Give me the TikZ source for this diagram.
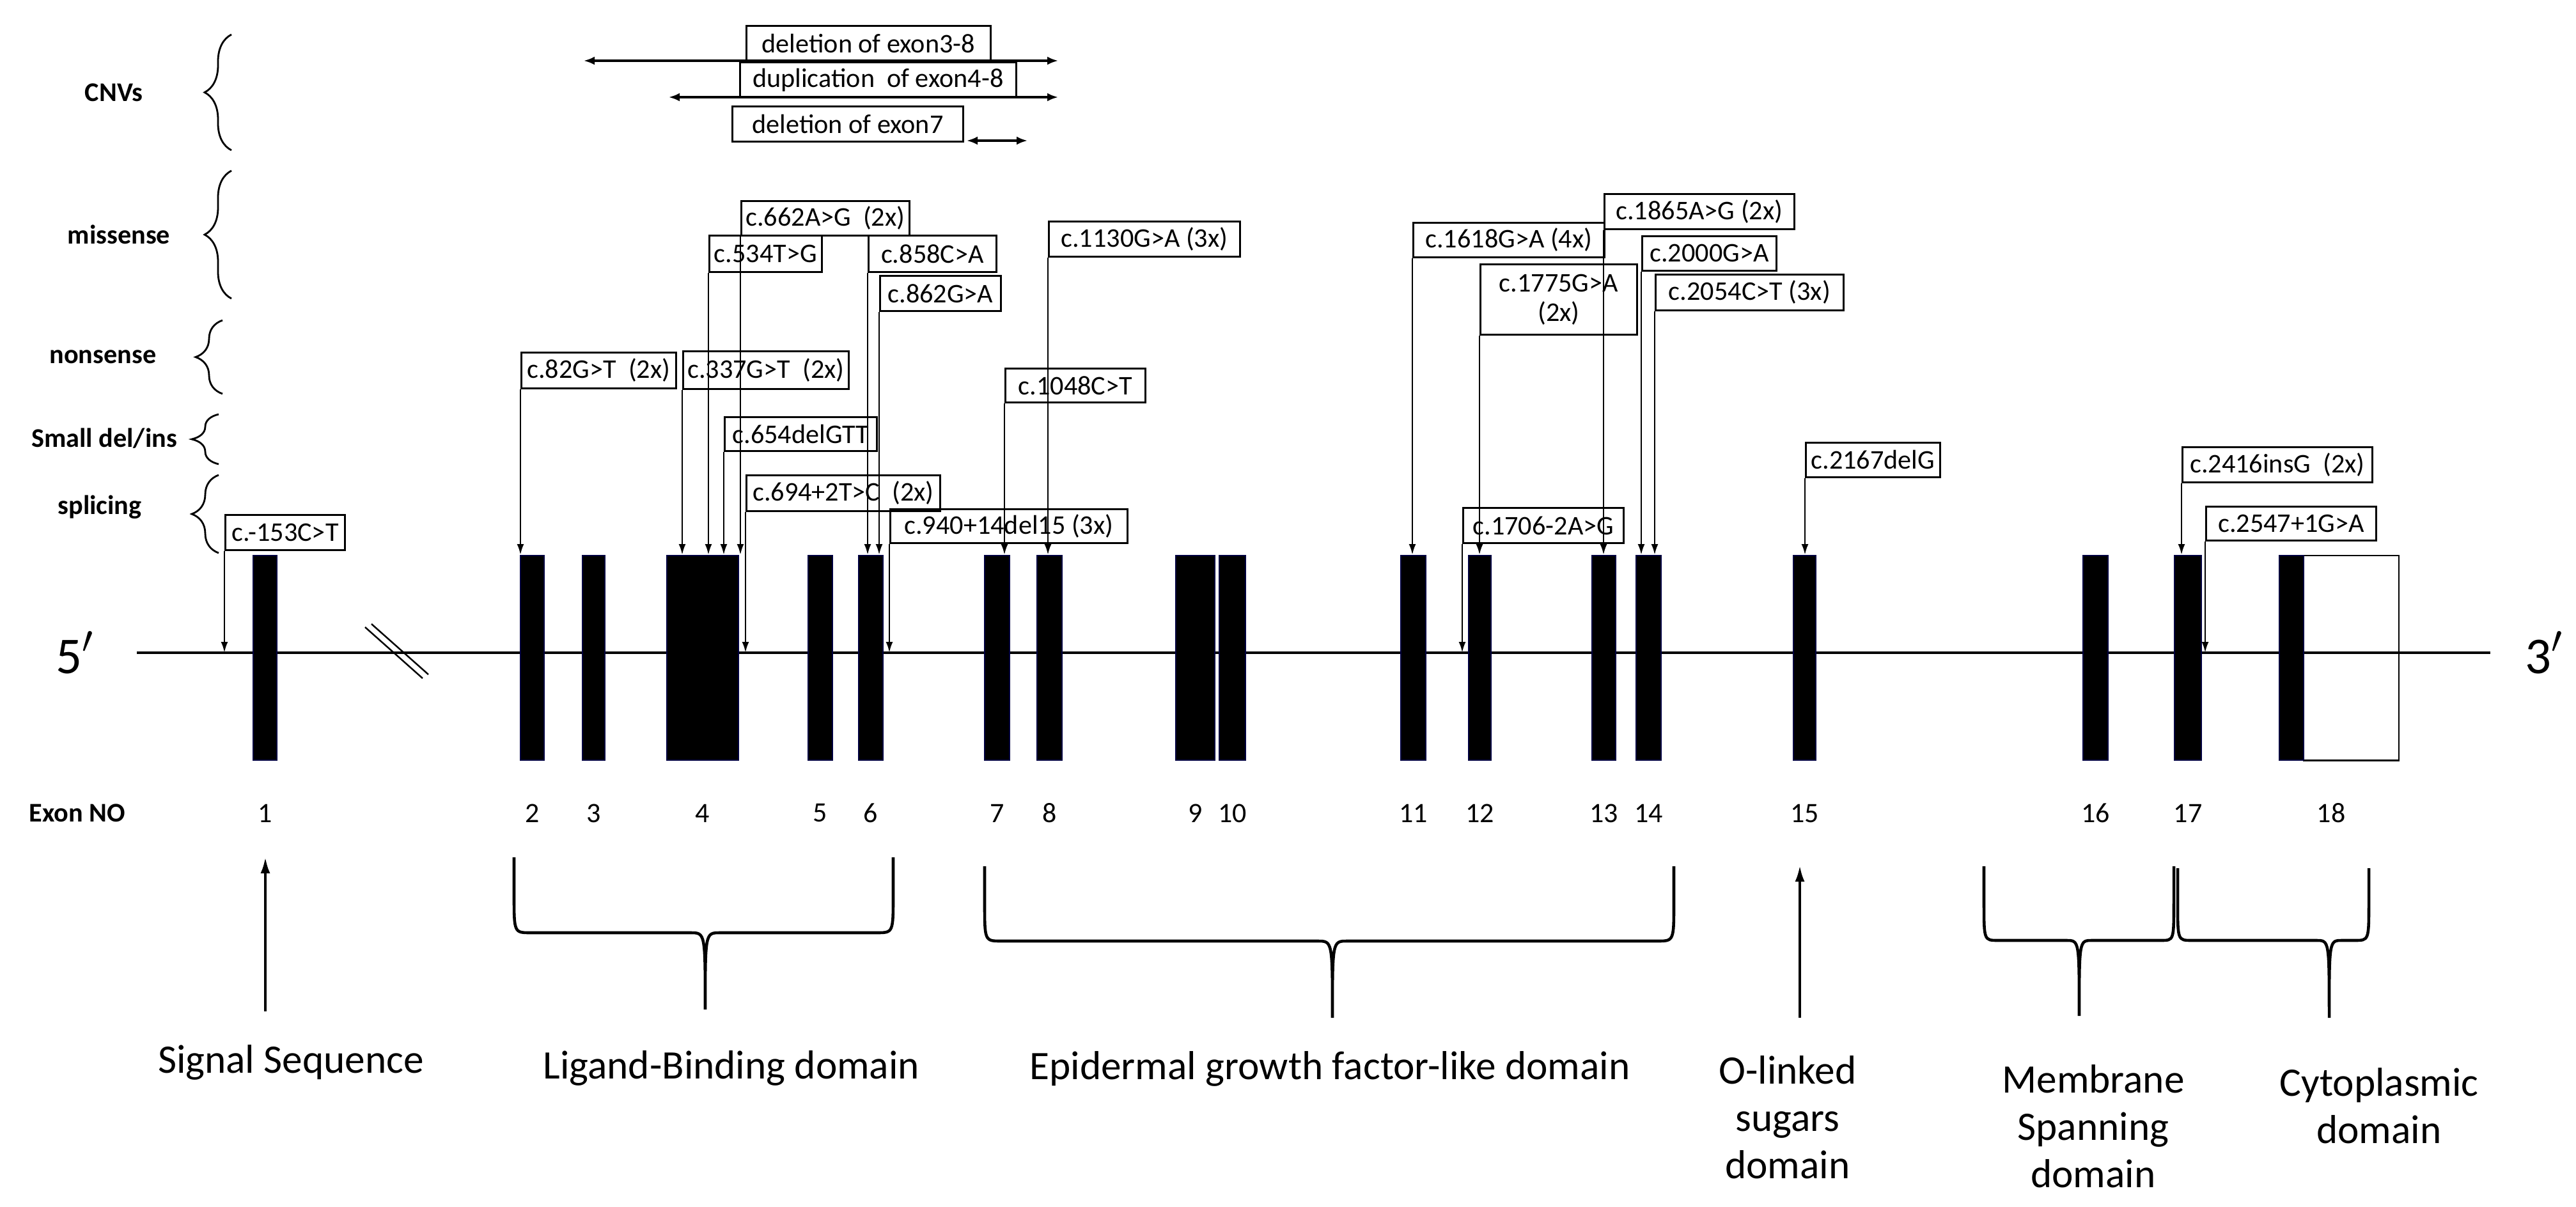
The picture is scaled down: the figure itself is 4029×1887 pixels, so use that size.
\documentclass[tikz,border=0pt]{standalone}
\usepackage{fontspec}
\setmainfont{Carlito}
\usetikzlibrary{arrows.meta,decorations.pathreplacing}
\newcommand\mutnode[6]{\node[mutbox,minimum width={(#4-#2)*0.01cm},minimum height={(#5-#3)*0.01cm}] (#1) at (#2,#3) {#6};}
\newcommand\exonnode[4]{\node[exonbox,minimum width={(#3-#2)*0.01cm}] (#1) at ({(#2+#3)/2},1029) {}; \node[numlab] at (#1 |- 0,1272) {#4};}
\begin{document}
\begin{tikzpicture}[x=0.01cm,y=-0.01cm,
  mutbox/.style={draw,line width=0.8pt,anchor=north west,inner xsep=1pt,inner ysep=0pt,font=\fontsize{12}{13}\selectfont,align=center},
  exonbox/.style={fill=black,draw=black!75!blue,line width=0.5pt,minimum height=3.2cm,inner sep=0pt},
  numlab/.style={font=\fontsize{12.5}{14}\selectfont},
  catlab/.style={font=\bfseries\fontsize{12}{14}\selectfont},
  domlab/.style={font=\fontsize{18}{21}\selectfont,align=center},
  arr/.style={line width=0.8pt,-{Latex[length=0.17cm,width=0.11cm]}},
  darr/.style={line width=0.9pt,{Latex[length=0.17cm,width=0.13cm]}-{Latex[length=0.17cm,width=0.13cm]}},
  cbrace/.style={line width=0.8pt,decorate,decoration={brace,amplitude=0.42cm}},
  dom/.style={line width=1.3pt},
  uparr/.style={line width=1.1pt,-{Latex[length=0.25cm,width=0.15cm]}}]
\useasboundingbox (0,0) rectangle (4029,1887);
% main line
\coordinate (MLs) at (214,1021);
\coordinate (MLe) at (3895,1021);
\coordinate (ML) at (0,1021);
\draw[line width=0.9pt] (MLs) -- (MLe);
\node[font=\fontsize{23}{25}\selectfont] (five) at (117,1021) {5$'$};
\node[font=\fontsize{23}{25}\selectfont] (three) at (3979,1021) {3$'$};
\draw[line width=0.7pt] (571,981) -- (661,1061);
\draw[line width=0.7pt] (581,976) -- (670,1055);
% exons
\exonnode{e1}{396}{433}{1}
\exonnode{e2}{814}{851}{2}
\exonnode{e3}{911}{946}{3}
\exonnode{e4}{1043}{1155}{4}
\exonnode{e5}{1264}{1302}{5}
\exonnode{e6}{1343}{1381}{6}
\exonnode{e7}{1540}{1579}{7}
\exonnode{e8}{1622}{1661}{8}
\exonnode{e9}{1839}{1900}{9}
\exonnode{e10}{1907}{1948}{10}
\exonnode{e11}{2191}{2230}{11}
\exonnode{e12}{2297}{2332}{12}
\exonnode{e13}{2490}{2527}{13}
\exonnode{e14}{2559}{2598}{14}
\exonnode{e15}{2805}{2840}{15}
\exonnode{e16}{3258}{3297}{16}
\exonnode{e17}{3401}{3443}{17}
\node[draw,line width=0.8pt,minimum width=1.49cm,minimum height=3.2cm,inner sep=0pt] (e18w) at (3677.5,1029) {};
\exonnode{e18}{3565}{3603}{}
\node[numlab] at (3646,1272) {18};
\node[catlab] (exno) at (121,1272) {Exon NO};
% categories
\node[catlab] (cnv) at (178,145) {CNVs};
\node[catlab] (mis) at (186,367) {missense};
\node[catlab] (non) at (161,558) {nonsense};
\node[catlab] (sdi) at (163,686) {Small del/ins};
\node[catlab] (spl) at (156,793) {splicing};
\draw[cbrace] (362,235) -- (362,54);
\draw[cbrace] (362,467) -- (362,267);
\draw[cbrace] (348,616) -- (348,501);
\draw[cbrace] (342,726) -- (342,648);
\draw[cbrace] (342,865) -- (342,743);
% CNVs
\mutnode{del38}{1166}{39}{1548}{94}{deletion of exon3-8}
\mutnode{dup48}{1156}{96}{1588}{151}{duplication\ \ of exon4-8}
\mutnode{del7}{1144}{165}{1505}{220}{deletion of exon7}
\coordinate (c1a) at (913,95); \coordinate (c1b) at (1655,95);
\coordinate (c2a) at (1046,152); \coordinate (c2b) at (1655,152);
\coordinate (c3a) at (1512,220); \coordinate (c3b) at (1607,220);
\draw[darr] (c1a) -- (c1b);
\draw[darr] (c2a) -- (c2b);
\draw[darr] (c3a) -- (c3b);
% mutation boxes
\mutnode{m662}{1158}{313}{1421}{367}{c.662A>G\ \ (2x)}
\mutnode{m534}{1108}{367}{1284}{424}{c.534T>G}
\mutnode{m858}{1357}{367}{1557}{424}{c.858C>A}
\mutnode{m862}{1375}{430}{1564}{485}{c.862G>A}
\mutnode{m1130}{1639}{345}{1938}{400}{c.1130G>A (3x)}
\mutnode{m1618}{2209}{347}{2508}{401}{c.1618G>A (4x)}
\mutnode{m1865}{2508}{302}{2805}{357}{c.1865A>G (2x)}
\mutnode{m2000}{2567}{368}{2777}{422}{c.2000G>A}
\mutnode{m1775}{2314}{412}{2559}{522}{c.1775G>A\\(2x)}
\mutnode{m2054}{2588}{428}{2882}{484}{c.2054C>T (3x)}
\mutnode{m82}{814}{550}{1056}{606}{c.82G>T\ \ (2x)}
\mutnode{m337}{1067}{548}{1326}{607}{c.337G>T\ \ (2x)}
\mutnode{m654}{1132}{651}{1370}{704}{c.654delGTT}
\mutnode{m1048}{1571}{575}{1790}{628}{c.1048C>T}
\mutnode{m694}{1166}{742}{1469}{798}{c.694+2T>C\ \ (2x)}
\mutnode{m940}{1391}{795}{1762}{848}{c.940+14del15 (3x)}
\mutnode{m1706}{2287}{793}{2538}{848}{c.1706-2A>G}
\mutnode{m2167}{2823}{691}{3033}{745}{c.2167delG}
\mutnode{m2416}{3412}{698}{3709}{753}{c.2416insG\ \ (2x)}
\mutnode{m2547}{3449}{791}{3715}{844}{c.2547+1G>A}
\mutnode{m153}{351}{804}{538}{859}{c.-153C>T}
% arrows to exons
\draw[arr] (m82.south west) -- (m82.south west |- e2.north);
\draw[arr] (m337.south west) -- (m337.south west |- e4.north);
\draw[arr] (m534.south west) -- (m534.south west |- e4.north);
\draw[arr] (m654.south west) -- (m654.south west |- e4.north);
\draw[arr] (m662.south west) -- (m662.south west |- e4.north);
\draw[arr] (m858.south west) -- (m858.south west |- e6.north);
\draw[arr] (m862.south west) -- (m862.south west |- e6.north);
\draw[arr] (m1048.south west) -- (m1048.south west |- e7.north);
\draw[arr] (m1130.south west) -- (m1130.south west |- e8.north);
\draw[arr] (m1618.south west) -- (m1618.south west |- e11.north);
\draw[arr] (m1775.south west) -- (m1775.south west |- e12.north);
\draw[arr] (m1865.south west) -- (m1865.south west |- e13.north);
\draw[arr] (m2000.south west) -- (m2000.south west |- e14.north);
\draw[arr] (m2054.south west) -- (m2054.south west |- e14.north);
\draw[arr] (m2167.south west) -- (m2167.south west |- e15.north);
\draw[arr] (m2416.south west) -- (m2416.south west |- e17.north);
% arrows to intron line
\draw[arr] (m153.south west) -- (m153.south west |- ML);
\draw[arr] (m694.south west) -- (m694.south west |- ML);
\draw[arr] (m940.south west) -- (m940.south west |- ML);
\draw[arr] (m1706.south west) -- (m1706.south west |- ML);
\draw[arr] (m2547.south west) -- (m2547.south west |- ML);
% domains
\node[domlab] (dsig) at (455,1662) {Signal Sequence};
\node[domlab] (dlig) at (1144,1671) {Ligand-Binding domain};
\node[domlab] (degf) at (2080,1672) {Epidermal growth factor-like domain};
\node[domlab] (dolk) at (2796,1748) {O-linked\\sugars\\domain};
\node[domlab] (dmem) at (3274,1762) {Membrane\\Spanning\\domain};
\node[domlab] (dcyt) at (3721,1730) {Cytoplasmic\\domain};
\coordinate (s1) at (415,1582); \coordinate (s2) at (415,1341);
\draw[uparr] (s1) -- (s2);
\coordinate (o1) at (2815,1592); \coordinate (o2) at (2815,1354);
\draw[uparr] (o1) -- (o2);
% ligand brace
\draw[dom] (804,1341) -- (804,1400) .. controls (804,1459) .. (830,1459) -- (1080,1459) .. controls (1103,1459) .. (1103,1579) .. controls (1103,1459) .. (1126,1459) -- (1371,1459) .. controls (1397,1459) .. (1397,1400) -- (1397,1341);
% EGF brace
\draw[dom] (1540,1355) -- (1540,1412) .. controls (1540,1472) .. (1566,1472) -- (2061,1472) .. controls (2084,1472) .. (2084,1592) .. controls (2084,1472) .. (2107,1472) -- (2592,1472) .. controls (2618,1472) .. (2618,1412) -- (2618,1355);
% membrane brace
\draw[dom] (3103,1355) -- (3103,1412) .. controls (3103,1471) .. (3125,1471) -- (3232,1471) .. controls (3252,1471) .. (3252,1589) .. controls (3252,1471) .. (3272,1471) -- (3380,1471) .. controls (3400,1471) .. (3400,1412) -- (3400,1355);
% cytoplasmic brace
\draw[dom] (3406,1358) -- (3406,1412) .. controls (3406,1471) .. (3428,1471) -- (3623,1471) .. controls (3643,1471) .. (3643,1592) .. controls (3643,1471) .. (3663,1471) -- (3683,1471) .. controls (3705,1471) .. (3705,1412) -- (3705,1358);
\end{tikzpicture}
\end{document}
